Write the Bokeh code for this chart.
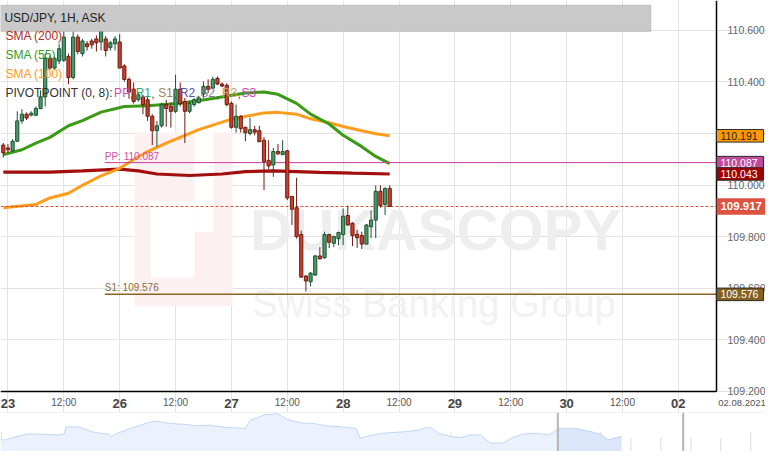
import numpy as np
from bokeh.plotting import figure
from bokeh.models import (Range1d, FixedTicker, NumeralTickFormatter, Label,
                          BoxAnnotation, ColumnDataSource, Span)
from bokeh.layouts import column
from bokeh.core.properties import value
from bokeh.embed import file_html
from bokeh.resources import INLINE

# ---------------- data ----------------
# hour index: 0 = 23 Jul 00:00, weekend removed (26 Jul 00:00 = 24, ..., 02 Aug 00:00 = 144)
hours = list(range(-1, 83))
opens = [110.155, 110.144, 110.133, 110.170, 110.249, 110.275, 110.271, 110.271, 110.297, 110.342,
         110.492, 110.454, 110.481, 110.484, 110.499, 110.417, 110.574, 110.510, 110.548, 110.559,
         110.567, 110.555, 110.567, 110.533, 110.548, 110.555, 110.462, 110.410, 110.372, 110.331,
         110.342, 110.331, 110.267, 110.211, 110.230, 110.312, 110.305, 110.286, 110.372, 110.324,
         110.286, 110.312, 110.320, 110.353, 110.383, 110.376, 110.414, 110.392, 110.387, 110.317,
         110.224, 110.267, 110.224, 110.200, 110.215, 110.211, 110.174, 110.096, 110.078, 110.130,
         110.118, 110.133, 109.956, 109.912, 109.808, 109.647, 109.625, 109.651, 109.725, 109.718,
         109.808, 109.774, 109.792, 109.808, 109.882, 109.852, 109.809, 109.804, 109.771, 109.838,
         109.864, 109.976, 109.925, 109.987]
highs = [110.163, 110.159, 110.178, 110.286, 110.294, 110.282, 110.286, 110.305, 110.368, 110.510,
         110.503, 110.499, 110.548, 110.596, 110.510, 110.596, 110.585, 110.567, 110.559, 110.567,
         110.581, 110.619, 110.578, 110.559, 110.578, 110.585, 110.469, 110.417, 110.398, 110.357,
         110.350, 110.342, 110.275, 110.249, 110.320, 110.331, 110.320, 110.428, 110.398, 110.338,
         110.327, 110.338, 110.346, 110.402, 110.410, 110.421, 110.421, 110.398, 110.395, 110.324,
         110.312, 110.271, 110.226, 110.261, 110.230, 110.230, 110.186, 110.174, 110.144, 110.159,
         110.174, 110.137, 109.957, 110.028, 109.823, 109.651, 109.663, 109.729, 109.759, 109.819,
         109.811, 109.804, 109.819, 109.909, 109.920, 109.856, 109.826, 109.819, 109.849, 109.901,
         109.999, 109.999, 109.991, 109.999]
lows = [110.107, 110.125, 110.129, 110.167, 110.238, 110.252, 110.267, 110.267, 110.294, 110.305,
        110.447, 110.447, 110.469, 110.477, 110.391, 110.410, 110.507, 110.499, 110.522, 110.529,
        110.518, 110.522, 110.499, 110.522, 110.522, 110.454, 110.402, 110.335, 110.316, 110.324,
        110.275, 110.249, 110.155, 110.148, 110.223, 110.226, 110.223, 110.279, 110.305, 110.163,
        110.279, 110.305, 110.316, 110.338, 110.357, 110.372, 110.387, 110.380, 110.305, 110.219,
        110.204, 110.204, 110.170, 110.193, 110.193, 110.167, 109.981, 110.062, 110.032, 110.118,
        110.118, 109.942, 109.845, 109.793, 109.640, 109.587, 109.607, 109.647, 109.711, 109.714,
        109.755, 109.759, 109.767, 109.767, 109.841, 109.763, 109.756, 109.752, 109.770, 109.794,
        109.794, 109.912, 109.884, 109.916]
closes = [110.125, 110.137, 110.170, 110.249, 110.275, 110.260, 110.279, 110.297, 110.342, 110.492,
          110.454, 110.492, 110.529, 110.574, 110.417, 110.574, 110.518, 110.559, 110.537, 110.544,
          110.552, 110.604, 110.522, 110.552, 110.567, 110.454, 110.410, 110.361, 110.324, 110.350,
          110.312, 110.267, 110.211, 110.230, 110.312, 110.297, 110.286, 110.372, 110.316, 110.286,
          110.316, 110.331, 110.338, 110.383, 110.372, 110.410, 110.392, 110.384, 110.312, 110.224,
          110.267, 110.219, 110.203, 110.215, 110.205, 110.168, 110.091, 110.074, 110.130, 110.121,
          110.130, 109.950, 109.906, 109.800, 109.643, 109.628, 109.658, 109.725, 109.714, 109.808,
          109.778, 109.800, 109.816, 109.879, 109.845, 109.804, 109.796, 109.771, 109.845, 109.864,
          109.976, 109.921, 109.987, 109.917]

sma200_h = [-1, 9, 16, 24, 28, 32, 39, 46, 51, 57, 67, 74, 82]
sma200_v = [110.050, 110.050, 110.055, 110.062, 110.055, 110.043, 110.037, 110.043, 110.052,
            110.055, 110.049, 110.046, 110.043]
sma55_h = [-1, 3, 6, 9, 13, 16, 20, 25, 30, 37, 44, 51, 55, 58, 62, 65, 69, 72, 76, 79, 82]
sma55_v = [110.118, 110.137, 110.163, 110.185, 110.230, 110.250, 110.283, 110.305, 110.308, 110.317,
           110.336, 110.357, 110.361, 110.352, 110.317, 110.275, 110.237, 110.193, 110.149, 110.111,
           110.083]
sma100_h = [-1, 6, 9, 13, 16, 20, 24, 27, 30, 34, 41, 48, 55, 58, 62, 65, 69, 72, 76, 79, 82]
sma100_v = [109.912, 109.925, 109.950, 109.968, 109.999, 110.036, 110.065, 110.099, 110.130, 110.163,
            110.215, 110.256, 110.280, 110.282, 110.275, 110.257, 110.242, 110.227, 110.211, 110.199,
            110.191]

pivot_start = 20.8
pp_level = 110.087
s1_level = 109.576

price_ticks = [109.2, 109.4, 109.6, 109.8, 110.0, 110.2, 110.4, 110.6]
day_ticks = [0, 24, 48, 72, 96, 120, 144]
day_labels = ["23", "26", "27", "28", "29", "30", "02"]
half_ticks = [12, 36, 60, 84, 108, 132]
last_date = "02.08.2021"

# overview (navigator) series
nav_pos = [0, 5, 23, 30, 60, 65, 67, 80, 93, 100, 110, 113, 120, 133, 153, 160, 173, 190, 200, 213,
           230, 250, 255, 270, 283, 293, 307, 320, 333, 347, 363, 367, 380, 393, 413, 427, 433, 440,
           447, 460, 470, 480, 490, 500, 513, 523, 533, 547, 560, 570, 587, 600, 613, 620, 633, 634]
nav_level = [12, 12, 17, 18, 17, 18, 25.3, 25.3, 20.3, 19, 18, 15.3, 19, 23.7, 30.3, 31, 28.7, 27.7,
             26.3, 27, 24.7, 23.7, 32, 37.7, 38.7, 32.7, 29.3, 28.7, 26.3, 25.3, 23.7, 13.7, 17, 19,
             20.3, 22, 24.3, 24.3, 18.7, 15.3, 14.3, 17, 17, 8.7, 8.7, 14.3, 17.7, 18.7, 17, 23.7, 23.7,
             21, 17.7, 12, 15.3, 15.3]

# ---------------- layout ----------------
W = 765
H_MAIN = 412
SX = W / 781
SY = H_MAIN / 427
FONT = "Liberation Sans"
X_LEFT, X_PLOT_END = -1.6, 152.2       # data x at left edge / at end of price area
Y_TOP, Y_BOT = 110.716, 109.2          # data y at top / bottom of price area

def dx(xr):   # reference-pixel x -> data x (layout helper for decorations)
    return X_LEFT + xr / 731 * (X_PLOT_END - X_LEFT)

def dy(yr):   # reference-pixel y -> data y
    return Y_TOP - yr / 405 * (Y_TOP - Y_BOT)

p = figure(width=W, height=H_MAIN, output_backend="svg", toolbar_location=None,
           x_range=Range1d(X_LEFT, dx(781)), y_range=Range1d(dy(427), Y_TOP),
           y_axis_location="right", min_border=0)
p.outline_line_color = None
p.background_fill_color = "white"
p.border_fill_color = "white"

# axes (drawn at the edges of the price area)
p.yaxis.fixed_location = X_PLOT_END
p.yaxis.bounds = (Y_BOT, Y_TOP)
p.yaxis.ticker = FixedTicker(ticks=price_ticks)
p.yaxis.formatter = NumeralTickFormatter(format="0.000")
p.yaxis.axis_line_color = "black"
p.yaxis.axis_line_width = 1.5
p.yaxis.major_tick_line_color = None
p.yaxis.minor_tick_line_color = None
p.yaxis.major_label_text_font = FONT
p.yaxis.major_label_text_font_size = "10.5px"
p.yaxis.major_label_text_color = "#666666"
p.yaxis.major_label_standoff = 5

p.xaxis.fixed_location = Y_BOT
p.xaxis.bounds = (X_LEFT, X_PLOT_END)
p.xaxis.ticker = FixedTicker(ticks=day_ticks)
p.xaxis.major_label_overrides = {t: l for t, l in zip(day_ticks, day_labels)}
p.xaxis.axis_line_color = "black"
p.xaxis.axis_line_width = 1.5
p.xaxis.major_tick_line_color = None
p.xaxis.minor_tick_line_color = None
p.xaxis.major_label_text_font = FONT
p.xaxis.major_label_text_font_size = "13px"
p.xaxis.major_label_text_font_style = "bold"
p.xaxis.major_label_text_color = "#444444"
p.xaxis.major_label_standoff = 2

p.xgrid.ticker = FixedTicker(ticks=sorted(day_ticks + half_ticks))
p.ygrid.ticker = FixedTicker(ticks=price_ticks)
p.xgrid.bounds = (Y_BOT, Y_TOP)
p.ygrid.bounds = (X_LEFT, X_PLOT_END)
p.xgrid.grid_line_color = "#e3e3e3"
p.ygrid.grid_line_color = "#e3e3e3"

# watermark (logo + text)
def sbox(l, r, t, b, color, level="underlay", line=None):
    return BoxAnnotation(left=l * SX, right=r * SX, top=H_MAIN - t * SY, bottom=H_MAIN - b * SY,
                         left_units="screen", right_units="screen", top_units="screen",
                         bottom_units="screen", fill_color=color, fill_alpha=1,
                         line_color=line, level=level)

p.add_layout(sbox(137, 237, 137, 317, "#fdf0f0"))
p.add_layout(sbox(153, 198, 208, 287, "white"))
p.add_layout(sbox(198, 218, 137, 240, "white"))
p.text(x=[dx(255)], y=[dy(237)], text=["DUKASCOPY"], text_font=value(FONT),
       text_font_style="bold", text_font_size="58px", text_color="#eeeeee",
       text_baseline="alphabetic")
p.text(x=[dx(257)], y=[dy(315)], text=["Swiss Banking Group"], text_font=value(FONT),
       text_font_size="38px", text_color="#f2f2f2", text_baseline="alphabetic")

# SMA lines
p.line(sma200_h, sma200_v, line_width=3.2, line_color="#a30e0e")
p.line(sma100_h, sma100_v, line_width=3, line_color="#ff9c1c")
p.line(sma55_h, sma55_v, line_width=3, line_color="#3a9a14")

# pivot lines
p.segment(x0=[pivot_start], y0=[pp_level], x1=[X_PLOT_END], y1=[pp_level], line_color="#cc3d99", line_width=1)
p.segment(x0=[pivot_start], y0=[s1_level], x1=[X_PLOT_END], y1=[s1_level], line_color="#8a6522", line_width=1.5)
p.text(x=[pivot_start], y=[pp_level], text=[f"PP: {pp_level:.3f}"], text_baseline="bottom",
       y_offset=-1, text_font=value(FONT), text_font_size="10px", text_color="#d24ea6")
p.text(x=[pivot_start], y=[s1_level], text=[f"S1: {s1_level:.3f}"], text_baseline="bottom",
       y_offset=-1, text_font=value(FONT), text_font_size="10px", text_color="#8a6a3a")

# current price dashed line
last_close = closes[-1]
p.segment(x0=[X_LEFT], y0=[last_close], x1=[X_PLOT_END], y1=[last_close], line_color="#d6503f",
          line_dash="3 2", line_width=1)

# candles
o = np.array(opens); c = np.array(closes)
up = c >= o
src = ColumnDataSource(dict(
    h=hours, hi=highs, lo=lows,
    top=np.maximum(o, c), bot=np.minimum(o, c),
    fill=np.where(up, "#4a9a68", "#cc3f2d"),
    edge=np.where(up, "#1d5233", "#6e1a10"),
))
p.segment(x0="h", y0="hi", x1="h", y1="lo", source=src, line_color="edge", line_width=1)
p.vbar(x="h", width=0.68, top="top", bottom="bot", source=src,
       fill_color="fill", line_color="edge", line_width=1)

# title bar and legend texts
p.add_layout(sbox(0, 664, 5, 32, "#c9c9c9", level="annotation", line="#808080"))

def lab(x, y, text, color, size="12px", **kw):
    p.add_layout(Label(x=x * SX, y=H_MAIN - y * SY, x_units="screen", y_units="screen", text=text,
                       text_color=color, text_font=FONT, text_font_size=size,
                       text_baseline="middle", **kw))

lab(4, 18, "USD/JPY, 1H, ASK", "#222222", "12px")
lab(5, 37, "SMA (200)", "#b22a24")
lab(5, 56, "SMA (55)", "#3a9a1a")
lab(5, 76, "SMA (100)", "#ff9a1a")
lab(5, 96, "PIVOTPOINT (0, 8):", "#333333")
piv_tokens = [("PP", "#d24ea6", 116), ("R1", "#2aa878", 138), ("S1", "#a08458", 161),
              ("R2", "#4a56a8", 183), ("S2", "#7f7a95", 204), ("R3", "#c8a466", 226),
              ("S3", "#d040c8", 246)]
for i, (t, col, xx) in enumerate(piv_tokens):
    lab(xx, 96, t, col)
    if i < len(piv_tokens) - 1:
        lab(xx + 16, 96, ",", "#555555")

# 12:00 labels and date on the time row
p.text(x=half_ticks, y=[dy(417)] * len(half_ticks), text=["12:00"] * len(half_ticks),
       text_align="center", text_baseline="middle", text_font=value(FONT),
       text_font_size="10px", text_color="#555555")
p.text(x=[dx(757)], y=[dy(417)], text=[last_date], text_align="center", text_baseline="middle",
       text_font=value(FONT), text_font_size="9.5px", text_color="#555555")

# right-side value boxes (on top of the axis labels)
box_vals = [sma100_v[-1], pp_level, sma200_v[-1], s1_level]
box_fill = ["#ff9900", "#c24a9c", "#a00000", "#85611f"]
box_text = ["#222222", "white", "white", "white"]
p.rect(x=[dx(755)] * 4, y=box_vals, width=48 * SX, height=13 * SY, width_units="screen",
       height_units="screen", fill_color=box_fill, line_color="#2a2a2a", line_width=1,
       level="overlay")
p.text(x=[dx(735)] * 4, y=box_vals, text=[f"{v:.3f}" for v in box_vals], text_baseline="middle",
       text_font=value(FONT), text_font_size="10.5px", text_color=box_text, level="overlay")
p.rect(x=[dx(756)], y=[last_close], width=50 * SX, height=17 * SY, width_units="screen",
       height_units="screen", fill_color="#dd5241", line_color=None, level="overlay")
p.text(x=[dx(735)], y=[last_close], text=[f"{last_close:.3f}"], text_baseline="middle",
       text_font=value(FONT), text_font_size="11.5px", text_font_style="bold", text_color="white",
       level="overlay")

# ---------------- navigator ----------------
nav = figure(width=W, height=451 - H_MAIN, output_backend="svg", toolbar_location=None,
             x_range=Range1d(0, 781), y_range=Range1d(0, 40), min_border=0)
nav.axis.visible = False
nav.grid.visible = False
nav.outline_line_color = None
nav.add_layout(Span(location=40, dimension="width", line_color="#e4e4e4", line_width=1))
tick_x = 1 + 30.6 * np.arange(26)
tick_top = np.where(np.arange(26) % 5 == 0, 20, 14)
nav.segment(x0=tick_x, y0=0, x1=tick_x, y1=tick_top, line_color="#dcdcdc", line_width=1)
nav.varea(x=nav_pos, y1=0, y2=nav_level, fill_color="#ebf2fd")
sel = [i for i, x in enumerate(nav_pos) if x >= 570]
nav.varea(x=[nav_pos[i] for i in sel], y1=0, y2=[nav_level[i] for i in sel], fill_color="#dbe6fa")
nav.line(nav_pos, nav_level, line_color="#c2d6f5", line_width=1)
nav.segment(x0=[569, 697], y0=[0, 0], x1=[569, 697], y1=[40, 40], line_color="#b4b4b4", line_width=2)

layout = column(p, nav, spacing=0)
open("out.html", "w").write(file_html(layout, INLINE))
